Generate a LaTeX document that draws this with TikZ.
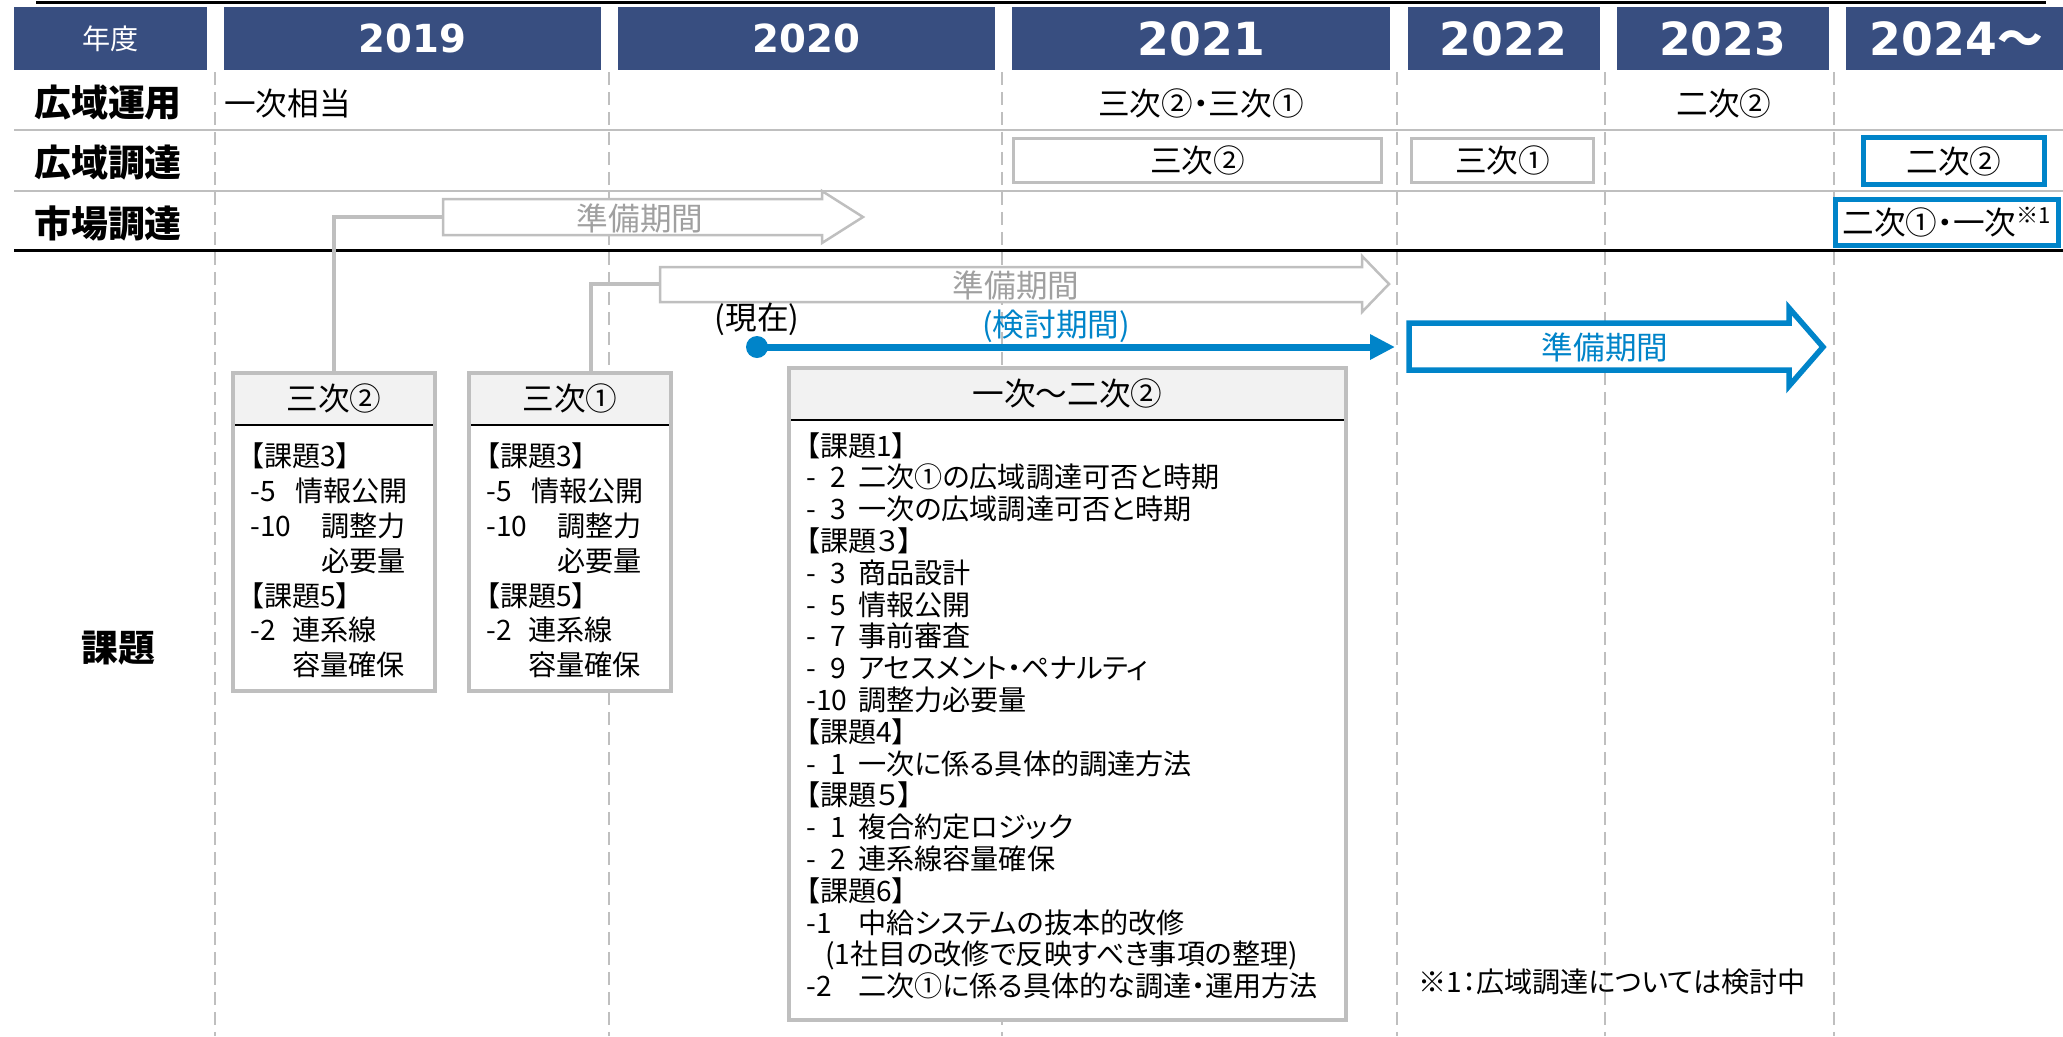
\documentclass[tikz,border=0pt]{standalone}
\usepackage{fontspec}
\setmainfont{Noto Sans CJK JP}[RawFeature=+palt]
\newfontfamily\yearfont{DejaVu Sans}
\usepackage{tikz}
\usetikzlibrary{positioning, shapes, arrows.meta}

\definecolor{navy}{RGB}{56,78,128}
\definecolor{lineblue}{RGB}{0,132,201}
\definecolor{linegray}{RGB}{191,191,191}
\definecolor{textgray}{RGB}{160,160,160}
\definecolor{headgray}{RGB}{242,242,242}

\newcommand{\kno}[2][1.04cm]{\makebox[#1][l]{#2}}
\newcommand{\knr}[1]{\makebox[1.04cm][l]{\makebox[0.8cm][l]{-\hfill#1}}}

\tikzstyle{yearbox} = [rectangle, fill=navy, text=white, minimum height=1.26cm, inner sep=0pt]
\tikzstyle{yearsmall} = [font=\yearfont\bfseries\fontsize{22pt}{24pt}\selectfont]
\tikzstyle{yearbig} = [font=\yearfont\bfseries\fontsize{26pt}{28pt}\selectfont]
\tikzstyle{rowlabel} = [inner sep=0pt, font=\bfseries\fontsize{21pt}{24pt}\selectfont]
\tikzstyle{cell} = [inner sep=0pt, font=\fontsize{18pt}{20pt}\selectfont]
\tikzstyle{graycell} = [cell, rectangle, draw=linegray, line width=0.055cm, fill=white, minimum height=0.88cm]
\tikzstyle{bluecell} = [cell, rectangle, draw=lineblue, line width=0.1cm, fill=white, minimum height=0.93cm]
\tikzstyle{issuebox} = [rectangle, draw=linegray, line width=0.08cm, fill=white, path picture={
  \fill[headgray] (path picture bounding box.north west) rectangle ++(12cm,-1.04cm);
  \draw[black, line width=0.05cm] ([yshift=-1.04cm]path picture bounding box.north west) -- ++(12cm,0);}]
\tikzstyle{issuelist} = [anchor=north west, align=left, inner sep=0pt]
\tikzstyle{conn} = [draw=linegray, line width=0.08cm]
\tikzstyle{vsep} = [draw=linegray, line width=0.04cm, dash pattern=on 0.26cm off 0.14cm]
\tikzstyle{hollow} = [draw=linegray, line width=0.05cm, fill=white]
\tikzstyle{arrowtext} = [cell, text=textgray]

\begin{document}
\begin{tikzpicture}[x=0.02cm, y=-0.02cm, node distance=1.2cm]
\useasboundingbox (0,0) rectangle (2063,1036);

\foreach \x in {215,609,1002,1397,1605,1834}
  \draw[vsep] (\x,72) -- (\x,1036);
\draw[black, line width=0.06cm] (36,2) -- (2046,2);
\draw[linegray, line width=0.05cm] (14,130) -- (2063,130);
\draw[linegray, line width=0.05cm] (14,191) -- (2063,191);
\draw[black, line width=0.06cm] (14,250) -- (2063,250);

\node (nendo) [yearbox, minimum width=3.86cm, font=\fontsize{16pt}{18pt}\selectfont] at (110.5,38.5) {年度};
\node (y2019) [yearbox, yearsmall, right=0.33cm of nendo, minimum width=7.54cm] {2019};
\node (y2020) [yearbox, yearsmall, right=0.33cm of y2019, minimum width=7.54cm] {2020};
\node (y2021) [yearbox, yearbig, right=0.33cm of y2020, minimum width=7.56cm] {2021};
\node (y2022) [yearbox, yearbig, right=0.33cm of y2021, minimum width=3.84cm] {2022};
\node (y2023) [yearbox, yearbig, right=0.33cm of y2022, minimum width=4.24cm] {2023};
\node (y2024) [yearbox, yearbig, right=0.33cm of y2023, minimum width=4.42cm] {2024{\rmfamily ～}};

\node (unyo) [rowlabel] at (108,103) {広域運用};
\node (chotatsu) [rowlabel, below of=unyo] {広域調達};
\node (shijo) [rowlabel, below of=chotatsu] {市場調達};
\node (kadai) [rowlabel] at (118,648) {課題};

\node (u2019) [cell, anchor=west] at (224,103) {一次相当};
\node (u2021) [cell] at (1201,103) {三次②・三次①};
\node (u2023) [cell] at (1724,103) {二次②};
\node (c2021) [graycell, minimum width=7.36cm] at (1197.5,160.5) {三次②};
\node (c2022) [graycell, minimum width=3.64cm] at (1502.5,160.5) {三次①};
\node (c2024) [bluecell, minimum width=3.62cm] at (1954,161) {二次②};
\node (s2024) [bluecell, minimum width=4.46cm] at (1947,222.5) {二次①・一次\textsuperscript{※1}};

\node (boxA) [issuebox, minimum width=4.04cm, minimum height=6.36cm] at (334,532) {};
\node (boxB) [issuebox, minimum width=4.06cm, minimum height=6.36cm] at (570,532) {};
\node (boxC) [issuebox, minimum width=11.14cm, minimum height=13.04cm] at (1067.5,694) {};

\coordinate (prep1) at (443,217);
\coordinate (prep2) at (660,284);
\draw[conn] (boxA.north) |- (prep1);
\draw[conn] ([xshift=0.42cm]boxB.north) |- (prep2);

\draw[hollow] (443,199) -- (822,199) -- (822,191) -- (863,217) -- (822,243) -- (822,235) -- (443,235) -- cycle;
\node (prep1txt) [arrowtext] at (640,218) {準備期間};
\draw[hollow] (660,267) -- (1362,267) -- (1362,256) -- (1389,284) -- (1362,312) -- (1362,302) -- (660,302) -- cycle;
\node (prep2txt) [arrowtext] at (1016,285) {準備期間};
\draw[hollow, draw=lineblue, line width=0.11cm] (1409,323) -- (1789,323) -- (1789,308) -- (1823,347) -- (1789,386) -- (1789,370) -- (1409,370) -- cycle;
\node (prep3txt) [cell, text=lineblue] at (1605,347) {準備期間};

\node (now) [circle, fill=lineblue, minimum size=0.44cm, inner sep=0pt] at (757,347) {};
\node (nowtxt) [cell, above=0pt of now] {(現在)};
\coordinate (nowend) at (1395,347);
\draw[lineblue, line width=0.14cm, -{Triangle[length=0.5cm, width=0.48cm]}] (now.center) -- (nowend);
\node (kento) [cell, text=lineblue] at (1056,326) {(検討期間)};

\node (hA) [cell] at ([yshift=-0.54cm]boxA.north) {三次②};
\node (hB) [cell] at ([yshift=-0.54cm]boxB.north) {三次①};
\node (hC) [cell] at ([yshift=-0.54cm]boxC.north) {一次～二次②};

\node (lA) [issuelist, font=\fontsize{16pt}{19.9pt}\selectfont] at (250,442) {【課題3】\\\kno[0.9cm]{-5}情報公開\\\kno[1.42cm]{-10}調整力\\\hspace*{1.42cm}必要量\\【課題5】\\\kno[0.84cm]{-2}連系線\\\hspace*{0.84cm}容量確保};
\node (lB) [issuelist, font=\fontsize{16pt}{19.9pt}\selectfont] at (486,442) {【課題3】\\\kno[0.9cm]{-5}情報公開\\\kno[1.42cm]{-10}調整力\\\hspace*{1.42cm}必要量\\【課題5】\\\kno[0.84cm]{-2}連系線\\\hspace*{0.84cm}容量確保};
\node (lC) [issuelist, font=\fontsize{16pt}{18.1pt}\selectfont] at (806,432) {【課題1】\\
\knr{2}二次①の広域調達可否と時期\\
\knr{3}一次の広域調達可否と時期\\
【課題３】\\
\knr{3}商品設計\\
\knr{5}情報公開\\
\knr{7}事前審査\\
\knr{9}アセスメント・ペナルティ\\
\knr{10}調整力必要量\\
【課題4】\\
\knr{1}一次に係る具体的調達方法\\
【課題５】\\
\knr{1}複合約定ロジック\\
\knr{2}連系線容量確保\\
【課題6】\\
\kno{-1}中給システムの抜本的改修\\
\hspace*{0.38cm}(1社目の改修で反映すべき事項の整理)\\
\kno{-2}二次①に係る具体的な調達・運用方法};

\node (note) [anchor=west, inner sep=0pt, font=\fontsize{16pt}{18pt}\selectfont] at (1418,982) {※1：広域調達については検討中};

\end{tikzpicture}
\end{document}
